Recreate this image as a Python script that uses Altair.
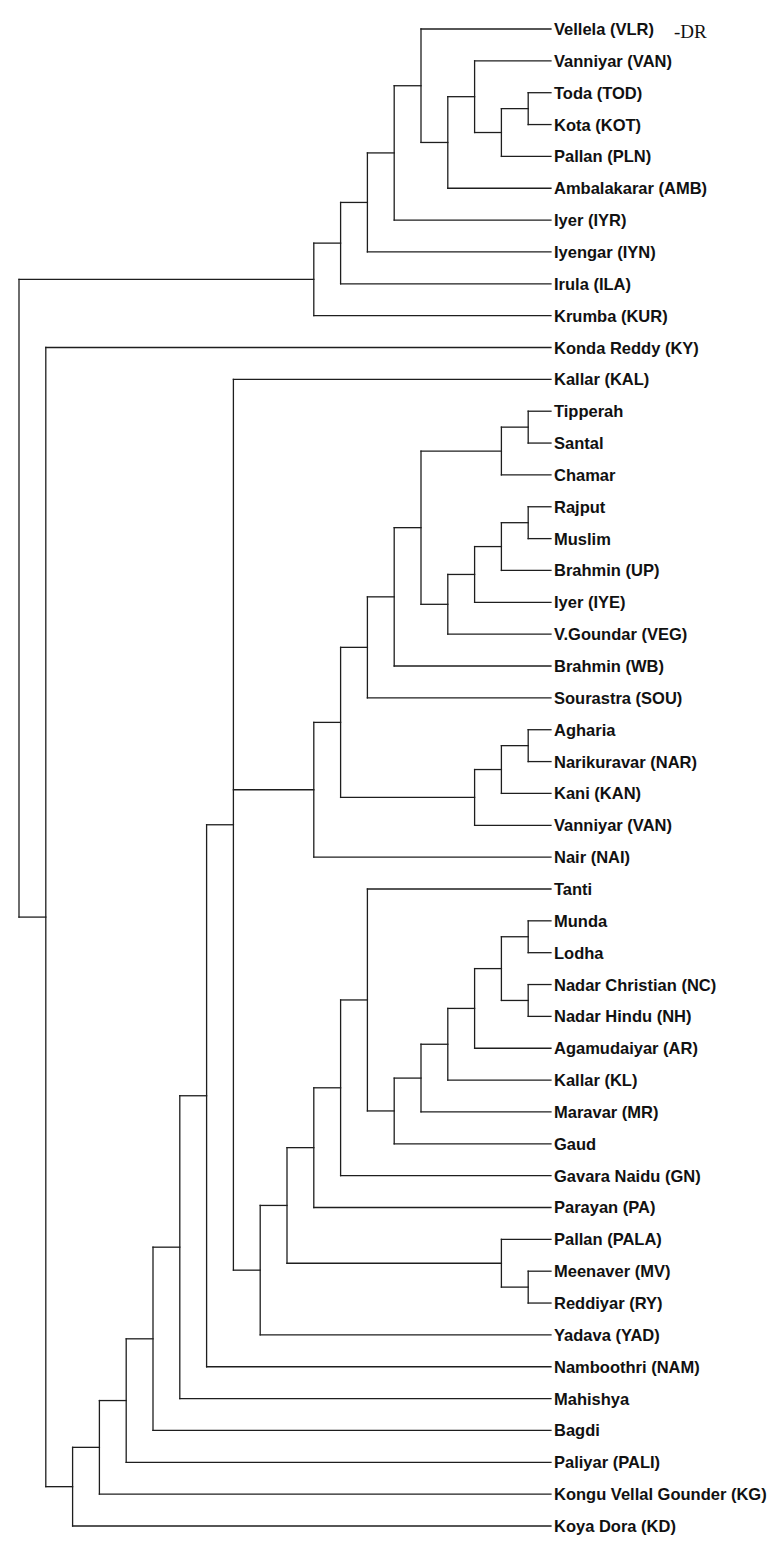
import altair as alt
import pandas as pd

# ---- data ----
LEAVES = [
    "Vellela (VLR)", "Vanniyar (VAN)", "Toda (TOD)", "Kota (KOT)", "Pallan (PLN)",
    "Ambalakarar (AMB)", "Iyer (IYR)", "Iyengar (IYN)", "Irula (ILA)", "Krumba (KUR)",
    "Konda Reddy (KY)", "Kallar (KAL)", "Tipperah", "Santal", "Chamar", "Rajput",
    "Muslim", "Brahmin (UP)", "Iyer (IYE)", "V.Goundar (VEG)", "Brahmin (WB)",
    "Sourastra (SOU)", "Agharia", "Narikuravar (NAR)", "Kani (KAN)", "Vanniyar (VAN)",
    "Nair (NAI)", "Tanti", "Munda", "Lodha", "Nadar Christian (NC)", "Nadar Hindu (NH)",
    "Agamudaiyar (AR)", "Kallar (KL)", "Maravar (MR)", "Gaud", "Gavara Naidu (GN)",
    "Parayan (PA)", "Pallan (PALA)", "Meenaver (MV)", "Reddiyar (RY)", "Yadava (YAD)",
    "Namboothri (NAM)", "Mahishya", "Bagdi", "Paliyar (PALI)",
    "Kongu Vellal Gounder (KG)", "Koya Dora (KD)",
]

# depth of the leaf tips (node levels run 0 = root ... 19)
LEAF_DEPTH = 19.85

# (node id, level, children) ; an int child is a leaf index, a str child a node id
MERGES = [
    ("J", 19, [2, 3]),
    ("I", 18, ["J", 4]),
    ("H", 17, [1, "I"]),
    ("G", 16, ["H", 5]),
    ("F", 15, [0, "G"]),
    ("E", 14, ["F", 6]),
    ("D", 13, ["E", 7]),
    ("C", 12, ["D", 8]),
    ("A", 11, ["C", 9]),
    ("Y1", 19, [12, 13]),
    ("Y", 18, ["Y1", 14]),
    ("Z3", 19, [15, 16]),
    ("Z2", 18, ["Z3", 17]),
    ("Z1", 17, ["Z2", 18]),
    ("Z", 16, ["Z1", 19]),
    ("X", 15, ["Y", "Z"]),
    ("W", 14, ["X", 20]),
    ("U", 13, ["W", 21]),
    ("V2", 19, [22, 23]),
    ("V1", 18, ["V2", 24]),
    ("V", 17, ["V1", 25]),
    ("T", 12, ["U", "V"]),
    ("R", 11, ["T", 26]),
    ("S12", 19, [28, 29]),
    ("S13", 19, [30, 31]),
    ("S11", 18, ["S12", "S13"]),
    ("S10", 17, ["S11", 32]),
    ("S9", 16, ["S10", 33]),
    ("S8", 15, ["S9", 34]),
    ("S7", 14, ["S8", 35]),
    ("S6", 13, [27, "S7"]),
    ("S5", 12, ["S6", 36]),
    ("S2", 11, ["S5", 37]),
    ("S4", 19, [39, 40]),
    ("S3", 18, [38, "S4"]),
    ("S1", 10, ["S2", "S3"]),
    ("S", 9, ["S1", 41]),
    ("Q", 8, [11, "R", "S"]),
    ("P", 7, ["Q", 42]),
    ("O", 6, ["P", 43]),
    ("N", 5, ["O", 44]),
    ("M", 4, ["N", 45]),
    ("L", 3, ["M", 46]),
    ("K", 2, ["L", 47]),
    ("B", 1, [10, "K"]),
    ("root", 0, ["A", "B"]),
]

TAG_TEXT = "-DR"
TAG_LEAF = 0

# ---- build segments from the tree ----
pos = {}  # node id -> (depth, y)


def child_pos(c):
    if isinstance(c, int):
        return (LEAF_DEPTH, float(c))
    return pos[c]


segs = []
for nid, lvl, kids in MERGES:
    kp = [child_pos(c) for c in kids]
    ys = [p[1] for p in kp]
    y_mid = (min(ys) + max(ys)) / 2.0
    pos[nid] = (lvl, y_mid)
    segs.append({"x": lvl, "x2": lvl, "y": min(ys), "y2": max(ys)})
    for d, yy in kp:
        segs.append({"x": lvl, "x2": d, "y": yy, "y2": yy})

seg_df = pd.DataFrame(segs)
leaf_df = pd.DataFrame({"name": LEAVES, "y": list(range(len(LEAVES))),
                        "x": [LEAF_DEPTH] * len(LEAVES)})
tag_df = pd.DataFrame({"name": [TAG_TEXT], "y": [TAG_LEAF], "x": [LEAF_DEPTH]})

xs = alt.Scale(domain=[0, 20], nice=False, zero=False)
ys = alt.Scale(domain=[len(LEAVES) - 1, 0], nice=False, zero=False)

lines = alt.Chart(seg_df).mark_rule(color="#1e1e1e", strokeWidth=1.3, strokeCap="square").encode(
    x=alt.X("x:Q", scale=xs, axis=None),
    x2="x2:Q",
    y=alt.Y("y:Q", scale=ys, axis=None),
    y2="y2:Q",
)

labels = alt.Chart(leaf_df).mark_text(
    align="left", baseline="middle", dx=3, dy=1,
    font="Liberation Sans, Arial, sans-serif", fontSize=16.5, fontWeight="bold",
    color="#111111",
).encode(
    x=alt.X("x:Q", scale=xs, axis=None),
    y=alt.Y("y:Q", scale=ys, axis=None),
    text="name:N",
)

tag = alt.Chart(tag_df).mark_text(
    align="left", baseline="alphabetic", dx=123, dy=9,
    font="Liberation Serif, Times New Roman, serif", fontSize=19, fontWeight="normal",
    color="#111111",
).encode(
    x=alt.X("x:Q", scale=xs, axis=None),
    y=alt.Y("y:Q", scale=ys, axis=None),
    text="name:N",
)

chart = alt.layer(lines, labels, tag).properties(
    width=536,
    height=1497,
    autosize=alt.AutoSizeParams(type="none"),
    padding={"left": 11, "top": 21, "right": 215, "bottom": 19},
    background="white",
).configure_view(stroke=None)

chart.save("out.html", embed_options={"renderer": "svg", "actions": False})
